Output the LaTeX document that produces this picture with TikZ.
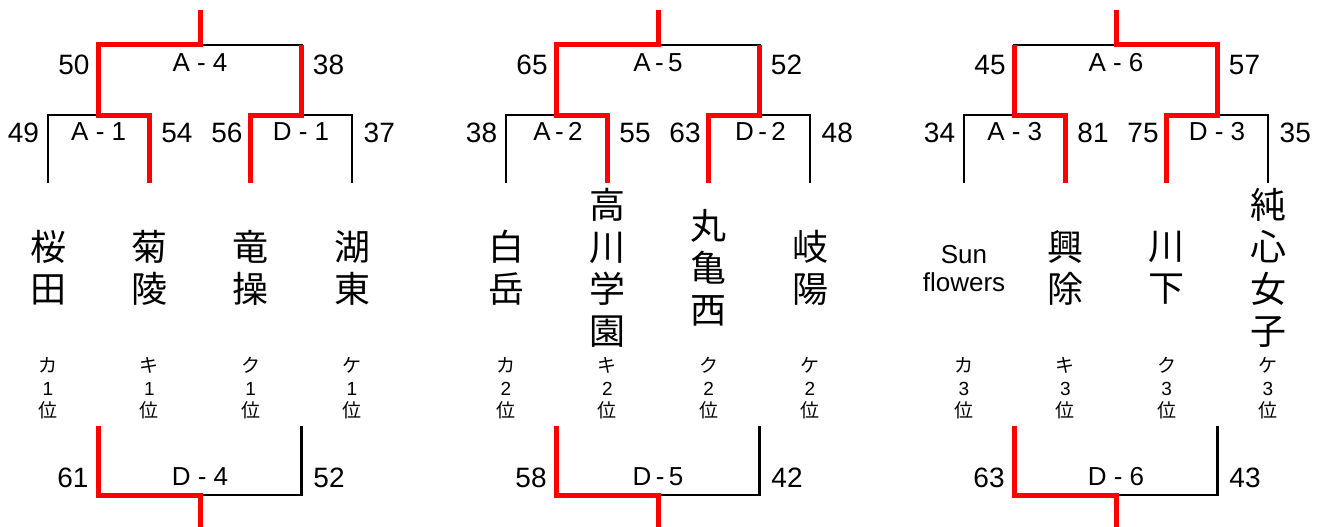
\documentclass[tikz,border=0pt]{standalone}
\usepackage{fontspec}
\setmainfont{Liberation Sans}
\newfontfamily\jp{Noto Sans CJK JP}
\definecolor{winred}{RGB}{255,0,0}
\def\pxA{48}
\def\pxB{149.3}
\def\pxC{250.7}
\def\pxD{352}
\def\pxL{98.7}
\def\pxR{301.3}
\def\pxT{200}
\begin{document}
\begin{tikzpicture}[x=1pt,y=-1pt,
  blk/.style={draw=black,line width=2.6pt,line join=miter},
  win/.style={draw=winred,line width=5pt,line join=miter},
  num/.style={font=\fontsize{28}{30}\selectfont,inner sep=0pt},
  game/.style={font=\fontsize{26}{28}\selectfont,inner sep=0pt},
  team/.style={font=\jp\fontsize{36}{42}\selectfont,align=center,inner sep=0pt},
  eng/.style={font=\fontsize{26}{28}\selectfont,align=center,inner sep=0pt},
  seed/.style={font=\fontsize{19}{22.5}\selectfont,align=center,inner sep=0pt}]
\useasboundingbox (0,0) rectangle (1322,527);
% black brackets
\foreach \dx in {0,458,916}{
 \begin{scope}[xshift=\dx pt]
  \draw[blk] (\pxL,115)--(\pxL,45)--(\pxR,45)--(\pxR,115);
  \draw[blk] (\pxA,183)--(\pxA,115)--(\pxB,115)--(\pxB,183);
  \draw[blk] (\pxC,183)--(\pxC,115)--(\pxD,115)--(\pxD,183);
  \draw[blk] (\pxL,426)--(\pxL,495)--(\pxR,495)--(\pxR,426);
 \end{scope}}
% winner paths
\foreach \dx in {0,458}{
 \begin{scope}[xshift=\dx pt]
  \draw[win] (\pxB,183)--(\pxB,115)--(\pxL,115)--(\pxL,45)--(\pxT,45)--(\pxT,10);
  \draw[win] (\pxC,183)--(\pxC,115)--(\pxR,115)--(\pxR,45);
 \end{scope}}
\begin{scope}[xshift=916pt]
  \draw[win] (\pxB,183)--(\pxB,115)--(\pxL,115)--(\pxL,45);
  \draw[win] (\pxC,183)--(\pxC,115)--(\pxR,115)--(\pxR,45)--(\pxT,45)--(\pxT,10);
\end{scope}
\foreach \dx in {0,458,916}{
 \begin{scope}[xshift=\dx pt]
  \draw[win] (\pxL,426)--(\pxL,495)--(\pxT,495)--(\pxT,530);
 \end{scope}}
% ---------- group 1
\begin{scope}[xshift=0pt]
 \node[num]  (a4l) at (74,65) {50};
 \node[game] (a4)  at (200,62.5) {A - 4};
 \node[num]  (a4r) at (328.5,65) {38};
 \node[num]  (a1l) at (23.5,133) {49};
 \node[game] (a1)  at (98.7,131.5) {A - 1};
 \node[num]  (a1r) at (177,133) {54};
 \node[num]  (d1l) at (227,133) {56};
 \node[game] (d1)  at (301,131.5) {D - 1};
 \node[num]  (d1r) at (379.3,133) {37};
 \node[team] (t1a) at (\pxA,268) {桜\\田};
 \node[team] (t1b) at (\pxB,268) {菊\\陵};
 \node[team] (t1c) at (\pxC,268) {竜\\操};
 \node[team] (t1d) at (\pxD,268) {湖\\東};
 \node[seed] (s1a) at (\pxA,388.5) {{\jp カ}\\1\\{\jp 位}};
 \node[seed] (s1b) at (\pxB,388.5) {{\jp キ}\\1\\{\jp 位}};
 \node[seed] (s1c) at (\pxC,388.5) {{\jp ク}\\1\\{\jp 位}};
 \node[seed] (s1d) at (\pxD,388.5) {{\jp ケ}\\1\\{\jp 位}};
 \node[num]  (d4l) at (73,477.5) {61};
 \node[game] (d4)  at (200,477) {D - 4};
 \node[num]  (d4r) at (329,477.5) {52};
\end{scope}
% ---------- group 2
\begin{scope}[xshift=458pt]
 \node[num]  (a5l) at (74,65) {65};
 \node[game] (a5)  at (200,62.5) {A\,-\,5};
 \node[num]  (a5r) at (328.5,65) {52};
 \node[num]  (a2l) at (23.5,133) {38};
 \node[game] (a2)  at (100,131.5) {A\,-\,2};
 \node[num]  (a2r) at (177,133) {55};
 \node[num]  (d2l) at (227,133) {63};
 \node[game] (d2)  at (302.5,131.5) {D\,-\,2};
 \node[num]  (d2r) at (379.3,133) {48};
 \node[team] (t2a) at (\pxA,268) {白\\岳};
 \node[team] (t2b) at (\pxB,268) {高\\川\\学\\園};
 \node[team] (t2c) at (\pxC,268) {丸\\亀\\西};
 \node[team] (t2d) at (\pxD,268) {岐\\陽};
 \node[seed] (s2a) at (\pxA,388.5) {{\jp カ}\\2\\{\jp 位}};
 \node[seed] (s2b) at (\pxB,388.5) {{\jp キ}\\2\\{\jp 位}};
 \node[seed] (s2c) at (\pxC,388.5) {{\jp ク}\\2\\{\jp 位}};
 \node[seed] (s2d) at (\pxD,388.5) {{\jp ケ}\\2\\{\jp 位}};
 \node[num]  (d5l) at (73,477.5) {58};
 \node[game] (d5)  at (200,477) {D\,-\,5};
 \node[num]  (d5r) at (329,477.5) {42};
\end{scope}
% ---------- group 3
\begin{scope}[xshift=916pt]
 \node[num]  (a6l) at (74,65) {45};
 \node[game] (a6)  at (200,62.5) {A - 6};
 \node[num]  (a6r) at (328.5,65) {57};
 \node[num]  (a3l) at (23.5,133) {34};
 \node[game] (a3)  at (98.7,131.5) {A - 3};
 \node[num]  (a3r) at (177,133) {81};
 \node[num]  (d3l) at (227,133) {75};
 \node[game] (d3)  at (301,131.5) {D - 3};
 \node[num]  (d3r) at (379.3,133) {35};
 \node[eng]  (t3a) at (\pxA,269) {Sun\\flowers};
 \node[team] (t3b) at (\pxB,268) {興\\除};
 \node[team] (t3c) at (\pxC,268) {川\\下};
 \node[team] (t3d) at (\pxD,268) {純\\心\\女\\子};
 \node[seed] (s3a) at (\pxA,388.5) {{\jp カ}\\3\\{\jp 位}};
 \node[seed] (s3b) at (\pxB,388.5) {{\jp キ}\\3\\{\jp 位}};
 \node[seed] (s3c) at (\pxC,388.5) {{\jp ク}\\3\\{\jp 位}};
 \node[seed] (s3d) at (\pxD,388.5) {{\jp ケ}\\3\\{\jp 位}};
 \node[num]  (d6l) at (73,477.5) {63};
 \node[game] (d6)  at (200,477) {D - 6};
 \node[num]  (d6r) at (329,477.5) {43};
\end{scope}
\end{tikzpicture}
\end{document}
